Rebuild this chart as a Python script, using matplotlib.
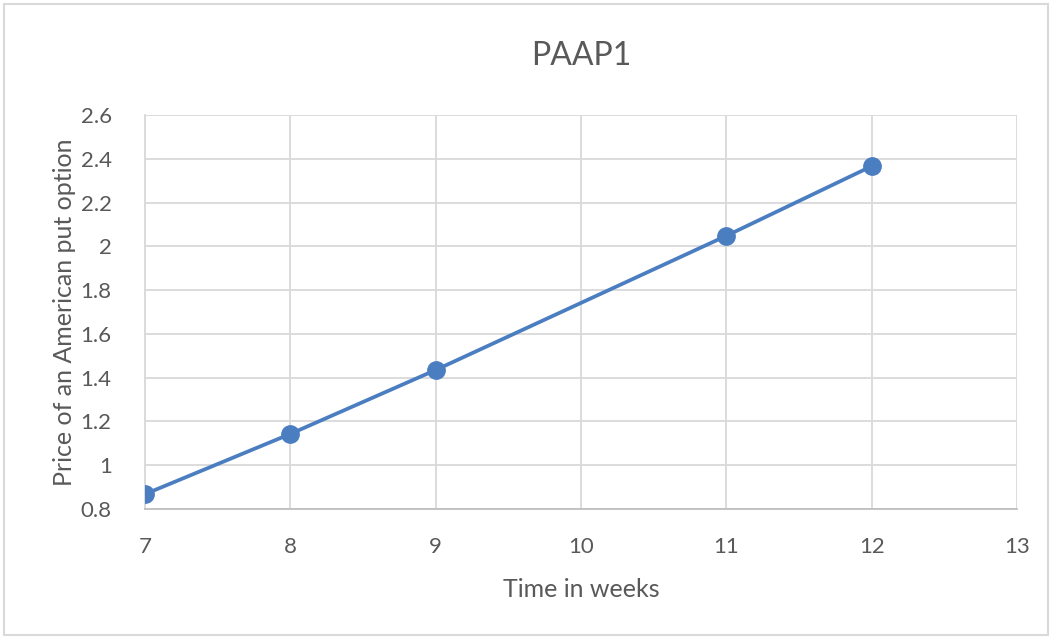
import matplotlib.pyplot as plt
from matplotlib.patches import Rectangle

# data
weeks = [7, 8, 9, 11, 12]
prices = [0.868, 1.143, 1.435, 2.048, 2.366]

plt.rcParams['font.family'] = ['Lato', 'DejaVu Sans']

fig = plt.figure(figsize=(10.52, 6.37), dpi=100)
ax = fig.add_axes([0.1378, 0.2009, 0.8289, 0.6186])

ax.plot(weeks, prices, color='#4A7EC1', linewidth=2.7, marker='o',
        markersize=12.5, zorder=3)

ax.set_xlim(7, 13)
ax.set_ylim(0.8, 2.6)
ax.set_xticks(range(7, 14))
yt = [0.8, 1.0, 1.2, 1.4, 1.6, 1.8, 2.0, 2.2, 2.4, 2.6]
ax.set_yticks(yt)
ax.set_yticklabels(['0.8', '1', '1.2', '1.4', '1.6', '1.8', '2', '2.2', '2.4', '2.6'])

ax.grid(True, color='#D9D9D9', linewidth=1.3)
ax.set_axisbelow(True)
for s in ['top', 'right']:
    ax.spines[s].set_visible(False)
ax.spines['left'].set_color('#D9D9D9')
ax.spines['bottom'].set_color('#BFBFBF')
ax.spines['left'].set_linewidth(1.3)
ax.spines['bottom'].set_linewidth(1.3)
ax.tick_params(length=0, labelsize=16, labelcolor='#595959')
ax.tick_params(axis='y', pad=24)
ax.tick_params(axis='x', pad=20)

ax.set_title('PAAP1', fontsize=23, color='#595959', pad=36)
ax.set_xlabel('Time in weeks', fontsize=18, color='#595959', labelpad=15)
ax.set_ylabel('Price of an American put option', fontsize=18, color='#595959', labelpad=3)

fig.patches.append(Rectangle((0.004, 0.003), 0.992, 0.99, transform=fig.transFigure,
                             fill=False, edgecolor='#D9D9D9', linewidth=1.5))

fig.savefig('out.png', dpi=100)
